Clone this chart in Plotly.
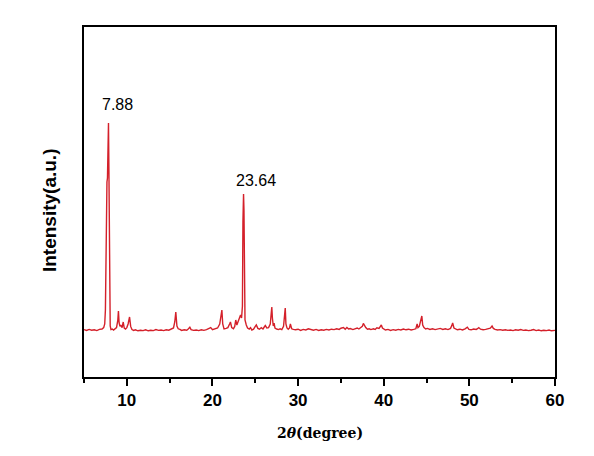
import plotly.graph_objects as go

# XRD pattern (2theta in degrees, intensity in arbitrary counts)
two_theta = [
    5.0, 5.3, 5.6, 5.9, 6.2, 6.5, 6.8, 7.1, 7.3, 7.42, 7.5, 7.56, 7.62, 7.68, 7.74, 7.8,
    7.86, 7.91, 7.95, 8.0, 8.06, 8.15, 8.3, 8.45, 8.6, 8.8, 8.95, 9.02, 9.1, 9.2, 9.3,
    9.45, 9.58, 9.7, 9.85, 10.0, 10.15, 10.32, 10.45, 10.6, 10.8, 11.0, 11.3, 11.6, 11.9,
    12.2, 12.5, 12.8, 13.1, 13.4, 13.7, 14.0, 14.3, 14.6, 14.9, 15.2, 15.45, 15.6, 15.72,
    15.85, 16.0, 16.2, 16.4, 16.7, 17.0, 17.2, 17.36, 17.5, 17.8, 18.1, 18.4, 18.7, 19.0,
    19.3, 19.6, 19.8, 20.0, 20.3, 20.6, 20.85, 21.0, 21.1, 21.2, 21.35, 21.6, 21.8, 22.0,
    22.1, 22.25, 22.45, 22.6, 22.72, 22.85, 23.0, 23.15, 23.28, 23.4, 23.5, 23.56, 23.63,
    23.68, 23.72, 23.8, 23.95, 24.1, 24.3, 24.45, 24.6, 24.8, 25.0, 25.12, 25.3, 25.5,
    25.7, 25.9, 26.05, 26.17, 26.35, 26.55, 26.75, 26.85, 26.93, 27.0, 27.1, 27.2, 27.3,
    27.5, 27.7, 27.9, 28.1, 28.3, 28.4, 28.5, 28.58, 28.7, 28.85, 29.0, 29.1, 29.25,
    29.45, 29.7, 30.0, 30.3, 30.6, 30.9, 31.2, 31.5, 31.8, 32.1, 32.4, 32.7, 33.0, 33.3,
    33.6, 33.9, 34.2, 34.5, 34.8, 35.0, 35.3, 35.5, 35.7, 35.9, 36.1, 36.4, 36.7, 36.9,
    37.1, 37.3, 37.5, 37.62, 37.75, 37.9, 38.1, 38.3, 38.5, 38.8, 39.0, 39.2, 39.45,
    39.6, 39.72, 39.85, 40.0, 40.2, 40.5, 40.8, 41.1, 41.4, 41.7, 42.0, 42.3, 42.6,
    42.9, 43.2, 43.5, 43.75, 43.9, 44.0, 44.15, 44.3, 44.45, 44.55, 44.7, 44.9, 45.1,
    45.4, 45.7, 46.0, 46.3, 46.6, 46.9, 47.2, 47.5, 47.8, 47.95, 48.05, 48.2, 48.4,
    48.6, 48.9, 49.2, 49.5, 49.76, 49.95, 50.2, 50.5, 50.8, 51.0, 51.1, 51.3, 51.6,
    51.9, 52.2, 52.45, 52.65, 52.8, 53.0, 53.3, 53.6, 53.9, 54.2, 54.5, 54.8, 55.1,
    55.4, 55.7, 56.0, 56.3, 56.6, 56.9, 57.2, 57.5, 57.8, 58.1, 58.4, 58.7, 59.0, 59.3,
    59.6, 60.0,
]
intensity = [
    302, 298, 303, 299, 301, 297, 303, 305, 312, 330, 400, 620, 1010, 1040, 1060, 1180,
    1335, 1100, 720, 420, 320, 302, 305, 300, 306, 312, 350, 395, 335, 318, 325,
    312, 340, 310, 305, 312, 330, 365, 318, 302, 298, 301, 296, 299, 297,
    301, 296, 299, 297, 302, 298, 300, 297, 301, 299, 303, 310, 340, 390,
    320, 306, 303, 298, 301, 299, 306, 314, 302, 298, 300, 297, 301, 298,
    302, 306, 312, 302, 305, 310, 330, 370, 400, 330, 305, 308, 312, 330,
    340, 312, 306, 318, 350, 325, 340, 355, 375, 360, 420, 840, 980,
    900, 520, 350, 325, 310, 305, 312, 300, 304, 318, 325, 308, 304,
    312, 305, 315, 322, 310, 312, 330, 370, 415, 360, 320, 335, 310,
    305, 302, 306, 302, 318, 360, 410, 330, 310, 304, 310, 330, 306,
    303, 301, 304, 298, 303, 300, 306, 301, 299, 303, 298, 301, 299, 303,
    300, 304, 302, 306, 303, 309, 312, 304, 313, 305, 307, 302, 306, 310,
    305, 312, 318, 333, 320, 312, 304, 306, 302, 306, 303, 311, 308,
    318, 325, 310, 304, 300, 303, 298, 302, 299, 303, 300, 305, 301,
    304, 300, 303, 306, 330, 312, 318, 340, 370, 325, 312, 305, 308,
    303, 306, 302, 305, 308, 303, 306, 302, 308, 322, 335, 310, 305,
    301, 304, 300, 306, 314, 303, 301, 305, 303, 308, 312, 304, 301,
    303, 305, 309, 320, 308, 303, 300, 302, 299, 301, 298, 300, 297,
    301, 299, 302, 298, 300, 297, 299, 302, 297, 300, 296, 299, 297, 300,
    296, 298,
]

# labelled peaks
peak_labels = ["7.88", "23.64"]
peak_x = [7.86, 23.63]
peak_y = [1335, 980]

fig = go.Figure()
fig.add_trace(go.Scatter(
    x=two_theta,
    y=intensity,
    mode="lines",
    line=dict(color="#d4202a", width=1.4),
    showlegend=False,
    hoverinfo="skip",
))

for label, px_, py_, dx, dy in zip(peak_labels, peak_x, peak_y, [9, 12], [8, 3]):
    fig.add_annotation(
        x=px_, y=py_, text=label, showarrow=False,
        xanchor="center", yanchor="bottom", xshift=dx, yshift=dy,
        font=dict(family="Arial, Liberation Sans", size=16, color="black"),
    )

fig.add_annotation(
    x=0.5, y=0, xref="paper", yref="paper", yshift=-56,
    text="<b>2<i>θ</i>(degree)</b>", showarrow=False,
    xanchor="center", yanchor="middle",
    font=dict(family="DejaVu Serif", size=14, color="black"),
)
fig.add_annotation(
    x=0, y=0.477, xref="paper", yref="paper", xshift=-35,
    text="<b>Intensity(a.u.)</b>", showarrow=False, textangle=-90,
    xanchor="center", yanchor="middle",
    font=dict(family="Arial, Liberation Sans", size=19, color="black"),
)

fig.update_xaxes(
    range=[5, 60],
    tickvals=[10, 20, 30, 40, 50, 60],
    ticks="outside", ticklen=7, tickwidth=1.5, tickcolor="black",
    minor=dict(dtick=5, tick0=5, ticks="outside", ticklen=4, tickwidth=1.5, tickcolor="black"),
    tickfont=dict(family="Arial, Liberation Sans", size=17, color="black", weight="bold"),
    showline=True, linecolor="black", linewidth=2, mirror=True,
    showgrid=False, zeroline=False,
)
fig.update_yaxes(
    range=[65, 1815],
    showticklabels=False, ticks="",
    showline=True, linecolor="black", linewidth=2, mirror=True,
    showgrid=False, zeroline=False,
)
# the page adds an 8px body margin, so the figure is 8px smaller than the window
fig.update_layout(
    width=586, height=448,
    margin=dict(l=76, r=39, t=19, b=79),
    plot_bgcolor="white", paper_bgcolor="white",
)

fig.write_html("out.html")
